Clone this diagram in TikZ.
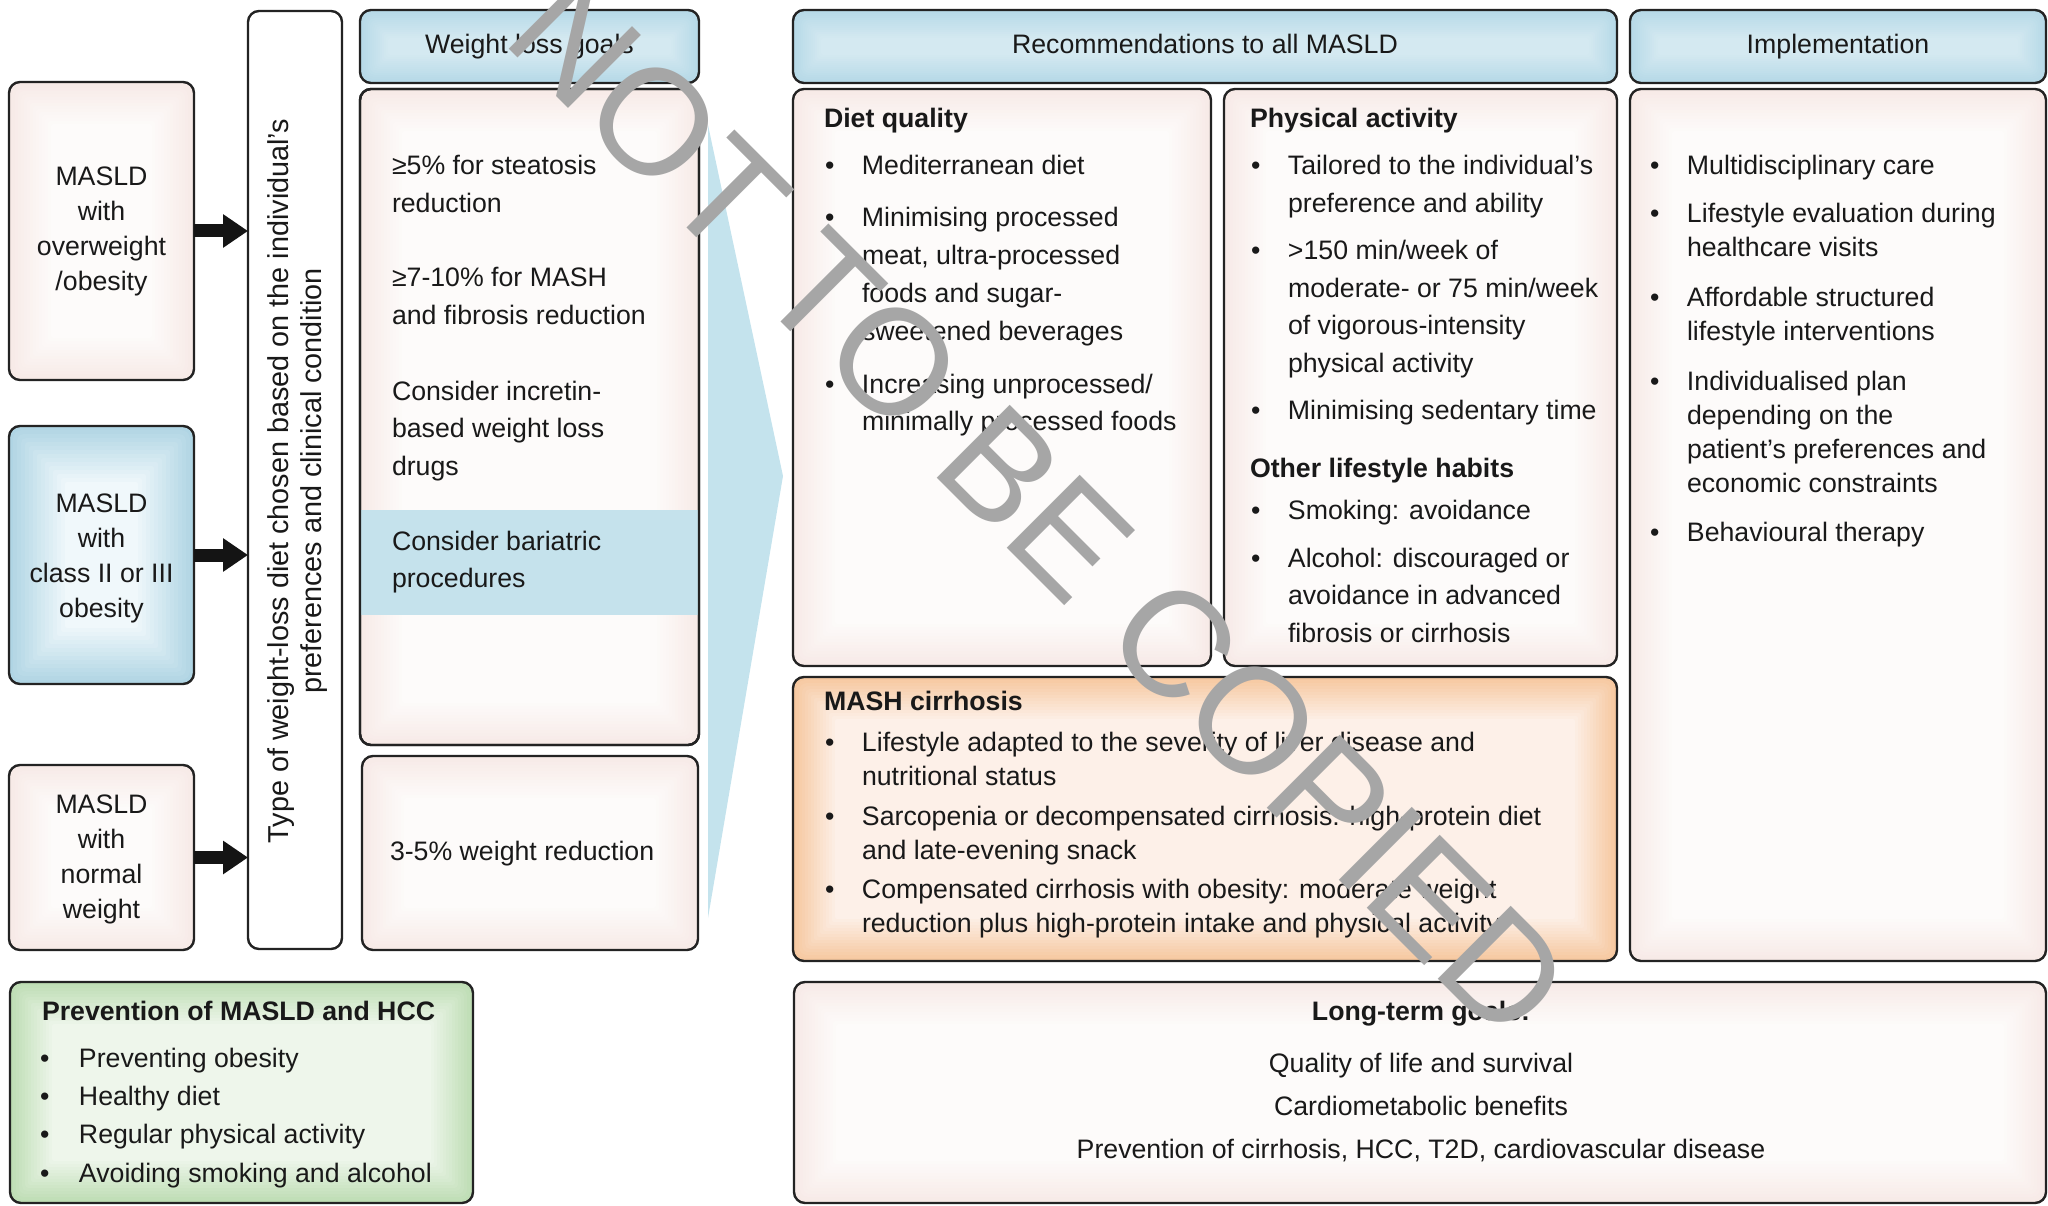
\documentclass[tikz,border=0pt]{standalone}
\usepackage{fontspec}
\setmainfont{Liberation Sans}
\usepackage{array}
\usetikzlibrary{arrows.meta}

\definecolor{inkc}{RGB}{35,35,35}
\definecolor{txtc}{RGB}{25,25,25}
\definecolor{pinkO}{RGB}{247,234,231}
\definecolor{pinkI}{RGB}{253,251,250}
\definecolor{blueO}{RGB}{182,217,231}
\definecolor{blueI}{RGB}{212,233,241}
\definecolor{blueBO}{RGB}{176,213,228}
\definecolor{blueBI}{RGB}{240,248,251}
\definecolor{bandc}{RGB}{197,226,236}
\definecolor{tric}{RGB}{196,227,237}
\definecolor{orO}{RGB}{246,200,160}
\definecolor{orI}{RGB}{253,240,232}
\definecolor{grO}{RGB}{190,221,180}
\definecolor{grI}{RGB}{238,246,235}
\definecolor{wmc}{RGB}{166,166,166}

\newcommand\mkbox[8]{%
  \pgfmathsetmacro\bw{#4-#2}\pgfmathsetmacro\bh{#5-#3}%
  \node[boxshape, minimum width=\bw pt, minimum height=\bh pt] (#1) at (#2,#3) {};
  \foreach \k in {0,...,14}{
    \pgfmathtruncatemacro\mypc{100*\k/14}
    \pgfmathsetmacro\myd{\k*#8}
    \pgfmathsetmacro\myrr{max(11-0.5*\myd,2)}
    \fill[#7!\mypc!#6, rounded corners=\myrr pt] ([shift={(\myd,\myd)}]#1.north west) rectangle ([shift={(-\myd,-\myd)}]#1.south east);
  }
  \draw[border] (#1.north west) rectangle (#1.south east);
}
\newcommand\bitems[2]{\begin{tabular}[t]{@{}p{#1pt}@{}l@{}}#2\end{tabular}}
\newcommand\clines[1]{\begin{tabular}[t]{@{}c@{}}#1\end{tabular}}
\newcommand\llines[1]{\begin{tabular}[t]{@{}l@{}}#1\end{tabular}}

\begin{document}
\begin{tikzpicture}[x=1pt,y=-1pt,
  boxshape/.style={rectangle, inner sep=0pt, outer sep=0pt, anchor=north west},
  border/.style={draw=inkc, line width=2.4pt, rounded corners=11pt},
  bigarrow/.style={draw=black!92, line width=13pt, -{Triangle[length=25pt,width=32pt]}},
  tx/.style={inner sep=0pt, outer sep=0pt, text=txtc, font=\fontsize{26.7}{38}\selectfont},
  tx37/.style={tx, font=\fontsize{26.7}{37.5}\selectfont},
  tx35/.style={tx, font=\fontsize{26.7}{35}\selectfont},
  tx34/.style={tx, font=\fontsize{26.7}{34}\selectfont},
  bx/.style={tx, font=\fontsize{26.7}{38}\selectfont\bfseries},
  wm/.style={inner sep=0pt, outer sep=0pt, text=wmc, font=\fontsize{150}{150}\selectfont}
]
\useasboundingbox (0,0) rectangle (2048,1206);
\clip (0,0) rectangle (2048,1206);

% big light-blue chevron
\fill[tric] (708,125) -- (783,476) -- (708,918) -- cycle;

% boxes
\mkbox{A}{9}{82}{194}{380}{pinkO}{pinkI}{3}
\mkbox{B}{9}{426}{194}{684}{blueBO}{blueBI}{4}
\mkbox{C}{9}{765}{194}{950}{pinkO}{pinkI}{3}
\mkbox{V}{248}{11}{342}{949}{white}{white}{0}
\mkbox{WH}{360}{10}{699}{83}{blueO}{blueI}{2}
\mkbox{WB}{360}{89}{699}{745}{pinkO}{pinkI}{3}
\fill[bandc] (361,510) rectangle (698,615);
\draw[border] (WB.north west) rectangle (WB.south east);
\mkbox{WL}{362}{756}{698}{950}{pinkO}{pinkI}{3}
\mkbox{P}{10}{982}{473}{1203}{grO}{grI}{3}
\mkbox{RH}{793}{10}{1617}{83}{blueO}{blueI}{2}
\mkbox{DQ}{793}{89}{1211}{666}{pinkO}{pinkI}{3}
\mkbox{PA}{1224}{89}{1617}{666}{pinkO}{pinkI}{3}
\mkbox{MC}{793}{677}{1617}{961}{orO}{orI}{3}
\mkbox{IH}{1630}{10}{2046}{83}{blueO}{blueI}{2}
\mkbox{IB}{1630}{89}{2046}{961}{pinkO}{pinkI}{3}
\mkbox{LT}{794}{982}{2046}{1203}{pinkO}{pinkI}{3}

% arrows
\draw[bigarrow] (A.east) -- (A.east -| V.west);
\draw[bigarrow] (B.east) -- (B.east -| V.west);
\draw[bigarrow] (C.east) -- (C.east -| V.west);

% left boxes text
\node[tx35, anchor=base] (At) at (101.5,186) {\clines{MASLD\\with\\overweight\\/obesity}};
\node[tx35, anchor=base] (Bt) at (101.5,512) {\clines{MASLD\\with\\class II or III\\obesity}};
\node[tx35, anchor=base] (Ct) at (101.5,813) {\clines{MASLD\\with\\normal\\weight}};

% vertical text
\node[inner sep=0pt, text=txtc, font=\fontsize{28.8}{33}\selectfont, rotate=90] (Vt) at (298,481)
  {\begin{tabular}{@{}c@{}}Type of weight-loss diet chosen based on the individual’s\\preferences and clinical condition\end{tabular}};

% headers
\node[tx, anchor=base] (WHt) at (529.5,54) {Weight loss goals};
\node[tx, anchor=base] (RHt) at (1205,54) {Recommendations to all MASLD};
\node[tx, anchor=base] (IHt) at (1838,54) {Implementation};

% weight loss goals
\node[tx, anchor=base west] (w1) at (392,175) {\llines{≥5\% for steatosis\\reduction}};
\node[tx, anchor=base west] (w2) at (392,287) {\llines{≥7-10\% for MASH\\and fibrosis reduction}};
\node[tx37, anchor=base west] (w3) at (392,400) {\llines{Consider incretin-\\based weight loss\\drugs}};
\node[tx37, anchor=base west] (w4) at (392,550) {\llines{Consider bariatric\\procedures}};
\node[tx, anchor=base west] (w5) at (390,860) {3-5\% weight reduction};

% diet quality
\node[bx, anchor=base west] (DQt) at (824,128) {Diet quality};
\node[tx, anchor=base west] (dq1) at (825,175) {\bitems{37}{•&Mediterranean diet}};
\node[tx, anchor=base west] (dq2) at (825,227) {\bitems{37}{•&Minimising processed\\&meat, ultra-processed\\&foods and sugar-\\&sweetened beverages}};
\node[tx37, anchor=base west] (dq3) at (825,393) {\bitems{37}{•&Increasing unprocessed/\\&minimally processed foods}};

% physical activity
\node[bx, anchor=base west] (PAt) at (1250,128) {Physical activity};
\node[tx37, anchor=base west] (pa1) at (1251,175) {\bitems{37}{•&Tailored to the individual’s\\&preference and ability}};
\node[tx37, anchor=base west] (pa2) at (1251,260) {\bitems{37}{•&>150 min/week of\\&moderate- or 75 min/week\\&of vigorous-intensity\\&physical activity}};
\node[tx, anchor=base west] (pa3) at (1251,419) {\bitems{37}{•&Minimising sedentary time}};
\node[bx, anchor=base west] (OLt) at (1250,477) {Other lifestyle habits};
\node[tx, anchor=base west] (ol1) at (1251,519) {\bitems{37}{•&Smoking: avoidance}};
\node[tx37, anchor=base west] (ol2) at (1251,567) {\bitems{37}{•&Alcohol: discouraged or\\&avoidance in advanced\\&fibrosis or cirrhosis}};

% MASH cirrhosis
\node[bx, anchor=base west] (MCt) at (824,710) {MASH cirrhosis};
\node[tx34, anchor=base west] (mc1) at (825,751) {\bitems{37}{•&Lifestyle adapted to the severity of liver disease and\\&nutritional status}};
\node[tx34, anchor=base west] (mc2) at (825,825) {\bitems{37}{•&Sarcopenia or decompensated cirrhosis: high-protein diet\\&and late-evening snack}};
\node[tx34, anchor=base west] (mc3) at (825,898) {\bitems{37}{•&Compensated cirrhosis with obesity: moderate weight\\&reduction plus high-protein intake and physical activity}};

% implementation
\node[tx34, anchor=base west] (im1) at (1650,175) {\bitems{37}{•&Multidisciplinary care}};
\node[tx34, anchor=base west] (im2) at (1650,223) {\bitems{37}{•&Lifestyle evaluation during\\&healthcare visits}};
\node[tx34, anchor=base west] (im3) at (1650,306) {\bitems{37}{•&Affordable structured\\&lifestyle interventions}};
\node[tx34, anchor=base west] (im4) at (1650,390) {\bitems{37}{•&Individualised plan\\&depending on the\\&patient’s preferences and\\&economic constraints}};
\node[tx34, anchor=base west] (im5) at (1650,541) {\bitems{37}{•&Behavioural therapy}};

% prevention
\node[bx, anchor=base west] (Pt) at (42,1020) {Prevention of MASLD and HCC};
\node[tx, anchor=base west, font=\fontsize{26.7}{38.4}\selectfont] (pv) at (40,1067) {\bitems{39}{•&Preventing obesity\\•&Healthy diet\\•&Regular physical activity\\•&Avoiding smoking and alcohol}};

% long-term goals
\node[bx, anchor=base] (LTt) at (1421,1020) {Long-term goals:};
\node[tx, anchor=base] (lt1) at (1421,1072) {Quality of life and survival};
\node[tx, anchor=base] (lt2) at (1421,1115) {Cardiometabolic benefits};
\node[tx, anchor=base] (lt3) at (1421,1158) {Prevention of cirrhosis, HCC, T2D, cardiovascular disease};

% watermark
\node[wm, rotate=-45, anchor=base west] (wmark) at (500,41) {NOT TO BE COPIED};
\end{tikzpicture}
\end{document}
